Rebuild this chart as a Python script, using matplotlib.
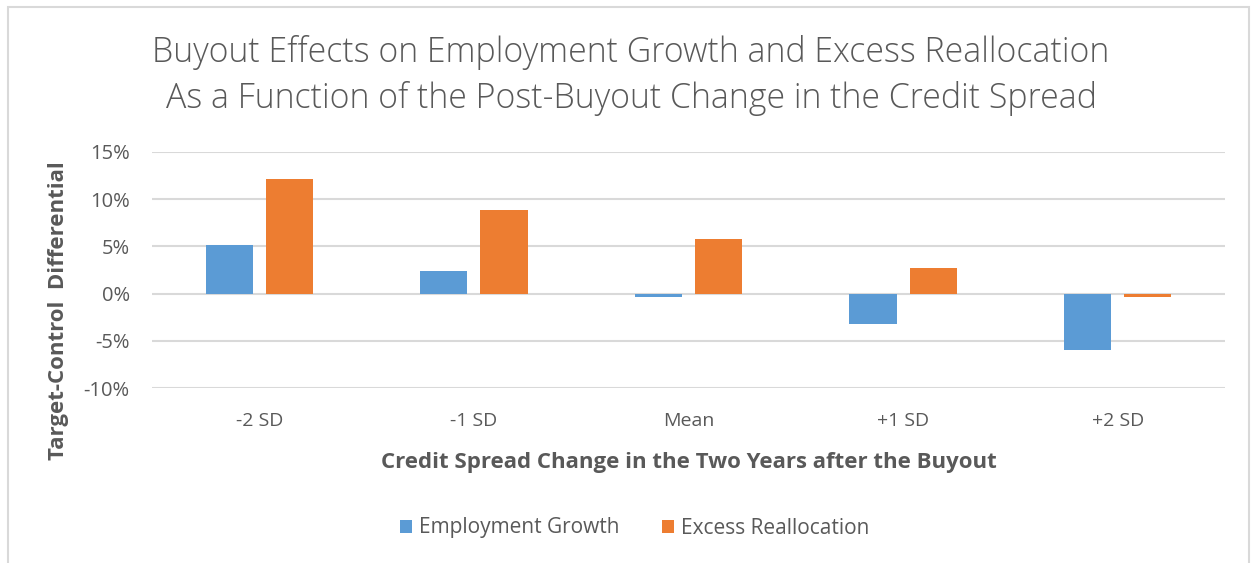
import matplotlib.pyplot as plt
import numpy as np
from matplotlib.patches import Rectangle
from matplotlib.ticker import FuncFormatter

# values (percent)
categories = ['-2 SD', '-1 SD', 'Mean', '+1 SD', '+2 SD']
employmentGrowth = [5.2, 2.4, -0.4, -3.2, -6.0]
excessReallocation = [12.1, 8.9, 5.8, 2.7, -0.4]
yTicks = [-10, -5, 0, 5, 10, 15]

blue = '#5b9bd5'
orange = '#ed7d31'
textGray = '#595959'
gridGray = '#d9d9d9'
fontName = 'Open Sans'

plt.rcParams['font.family'] = [fontName, 'DejaVu Sans']

fig = plt.figure(figsize=(12.52, 5.63), dpi=100)
ax = fig.add_axes([152 / 1252, 1 - 388 / 563, (1225 - 152) / 1252, (388 - 152) / 563])

x = np.arange(len(categories))
barW = 0.22
offset = 0.14
ax.bar(x - offset, employmentGrowth, barW, color=blue, label='Employment Growth', zorder=3)
ax.bar(x + offset, excessReallocation, barW, color=orange, label='Excess Reallocation', zorder=3)

ax.set_xlim(-0.5, len(categories) - 0.5)
ax.set_ylim(-10, 15)
ax.set_yticks(yTicks)
ax.yaxis.set_major_formatter(FuncFormatter(lambda v, p: '{:.0f}%'.format(v)))
ax.set_xticks(x)
ax.set_xticklabels(categories)
ax.grid(axis='y', color=gridGray, lw=1.5, zorder=0)
ax.tick_params(length=0, labelsize=14, labelcolor=textGray)
ax.tick_params(axis='y', labelsize=14.5)
ax.tick_params(axis='x', pad=17)
ax.tick_params(axis='y', pad=16)
for s in ax.spines.values():
    s.set_visible(False)

ax.set_xlabel('Credit Spread Change in the Two Years after the Buyout',
              fontsize=16, fontweight='bold', color=textGray, labelpad=16)
ax.set_ylabel('Target-Control  Differential', fontsize=16, fontweight='bold',
              color=textGray, va='center')
ax.yaxis.set_label_coords(-0.087, 0.326)

fig.text(0.504, 1 - 52 / 563, 'Buyout Effects on Employment Growth and Excess Reallocation',
         ha='center', va='center', fontsize=24.4, color=textGray, fontweight='light')
fig.text(0.504, 1 - 98 / 563, 'As a Function of the Post-Buyout Change in the Credit Spread',
         ha='center', va='center', fontsize=24.4, color=textGray, fontweight='light')

leg = fig.legend(loc='center', bbox_to_anchor=(0.507, 1 - 528 / 563), ncol=2, frameon=False,
                 fontsize=15, handlelength=0.6, handleheight=0.6, handletextpad=0.35,
                 columnspacing=2.0)
for t in leg.get_texts():
    t.set_color(textGray)

# chart border
fig.patches.append(Rectangle((8 / 1252, -0.02), 1241 / 1252, 1.02 - 7 / 563,
                             transform=fig.transFigure, fill=False,
                             edgecolor=gridGray, lw=1.5))

fig.savefig('out.png', dpi=100)
